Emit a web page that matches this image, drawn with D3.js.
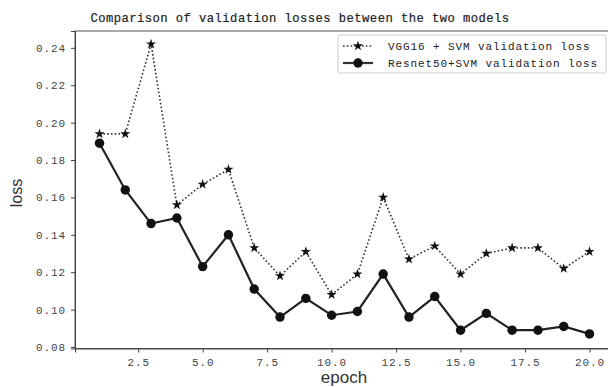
<!DOCTYPE html>
<html><head><meta charset="utf-8">
<script src="https://cdn.jsdelivr.net/npm/d3@7/dist/d3.min.js"></script>
<style>
html,body{margin:0;padding:0;background:#fff;}
svg{display:block;}
</style></head>
<body>
<svg id="chart" width="608" height="387"></svg>
<script>
const epochs = [1,2,3,4,5,6,7,8,9,10,11,12,13,14,15,16,17,18,19,20];
const vggLoss = [0.194,0.194,0.242,0.156,0.167,0.175,0.133,0.118,0.131,0.108,0.119,0.160,0.127,0.134,0.119,0.130,0.133,0.133,0.122,0.131];
const resnetLoss = [0.189,0.164,0.146,0.149,0.123,0.140,0.111,0.096,0.106,0.097,0.099,0.119,0.096,0.107,0.089,0.098,0.089,0.089,0.091,0.087];
const xTicks = [2.5,5.0,7.5,10.0,12.5,15.0,17.5,20.0];
const yTicks = [0.08,0.10,0.12,0.14,0.16,0.18,0.20,0.22,0.24];
const seriesNames = ["VGG16 + SVM validation loss","Resnet50+SVM validation loss"];
const titleText = "Comparison of validation losses between the two models";

const svg = d3.select("#chart");
const L = 75, R = 614, T = 31, B = 348.5;
const x = d3.scaleLinear().domain([0.05, 20.95]).range([L, R]);
const y = d3.scaleLinear().domain([0.0792, 0.2490]).range([B, T]);
const mono = "'Liberation Mono','DejaVu Sans Mono',monospace";
const ink = "#222";

// frame
svg.append("rect").attr("x", L).attr("y", T).attr("width", R - L).attr("height", B - T)
  .attr("fill", "none").attr("stroke", "#555").attr("stroke-width", 1);

// axes
const xAxis = d3.axisBottom(x).tickValues(xTicks).tickFormat(d3.format(".1f")).tickSize(4).tickPadding(6);
const yAxis = d3.axisLeft(y).tickValues(yTicks).tickFormat(d3.format(".2f")).tickSize(4).tickPadding(5);
const gx = svg.append("g").attr("transform", `translate(0,${B})`).call(xAxis);
const gy = svg.append("g").attr("transform", `translate(${L},0)`).call(yAxis);
[gx, gy].forEach(g => {
  g.select(".domain").attr("stroke", "#444");
  g.selectAll(".tick line").attr("stroke", "#444");
  g.selectAll(".tick text").attr("font-family", mono).attr("font-size", 11)
    .attr("letter-spacing", 0.9).attr("fill", "#444");
});

// title & axis labels
svg.append("text").attr("x", 300).attr("y", 22).attr("text-anchor", "middle")
  .attr("font-family", mono).attr("font-size", 12.2).attr("letter-spacing", 0.45)
  .attr("fill", ink).attr("stroke", ink).attr("stroke-width", 0.2).text(titleText);
svg.append("text").attr("x", 344).attr("y", 383).attr("text-anchor", "middle")
  .attr("font-family", "'Liberation Sans',Arial,sans-serif").attr("font-size", 17)
  .attr("fill", "#333").text("epoch");
svg.append("text").attr("transform", "translate(22,193) rotate(-90)").attr("text-anchor", "middle")
  .attr("font-family", "'Liberation Sans',Arial,sans-serif").attr("font-size", 16)
  .attr("fill", "#333").text("loss");

const line = d3.line().x((d, i) => x(epochs[i])).y(d => y(d));
const star = d3.symbol().type(d3.symbolStar).size(32);
const circ = d3.symbol().type(d3.symbolCircle).size(70);

// VGG dotted
svg.append("path").datum(vggLoss).attr("d", line).attr("fill", "none")
  .attr("stroke", "#333").attr("stroke-width", 1.6).attr("stroke-dasharray", "1.6,2.2");
svg.append("g").selectAll("path").data(vggLoss).join("path")
  .attr("transform", (d, i) => `translate(${x(epochs[i])},${y(d)})`)
  .attr("d", star).attr("fill", "#111");

// Resnet solid
svg.append("path").datum(resnetLoss).attr("d", line).attr("fill", "none")
  .attr("stroke", "#222").attr("stroke-width", 2.2);
svg.append("g").selectAll("path").data(resnetLoss).join("path")
  .attr("transform", (d, i) => `translate(${x(epochs[i])},${y(d)})`)
  .attr("d", circ).attr("fill", "#111");

// legend
const lg = svg.append("g");
lg.append("rect").attr("x", 338).attr("y", 35).attr("width", 268).attr("height", 38)
  .attr("rx", 2).attr("fill", "#fff").attr("stroke", "#ccc").attr("stroke-width", 1);
[0, 1].forEach(k => {
  const yy = 46 + k * 17;
  lg.append("line").attr("x1", 343).attr("x2", 373).attr("y1", yy).attr("y2", yy)
    .attr("stroke", "#333").attr("stroke-width", k ? 2.2 : 1.6)
    .attr("stroke-dasharray", k ? null : "1.6,2.2");
  lg.append("path").attr("transform", `translate(358,${yy})`)
    .attr("d", k ? circ() : star()).attr("fill", "#111");
  lg.append("text").attr("x", 388).attr("y", yy + 4)
    .attr("font-family", mono).attr("font-size", 11).attr("letter-spacing", 0.9)
    .attr("fill", ink).text(seriesNames[k]);
});
</script>
</body></html>
